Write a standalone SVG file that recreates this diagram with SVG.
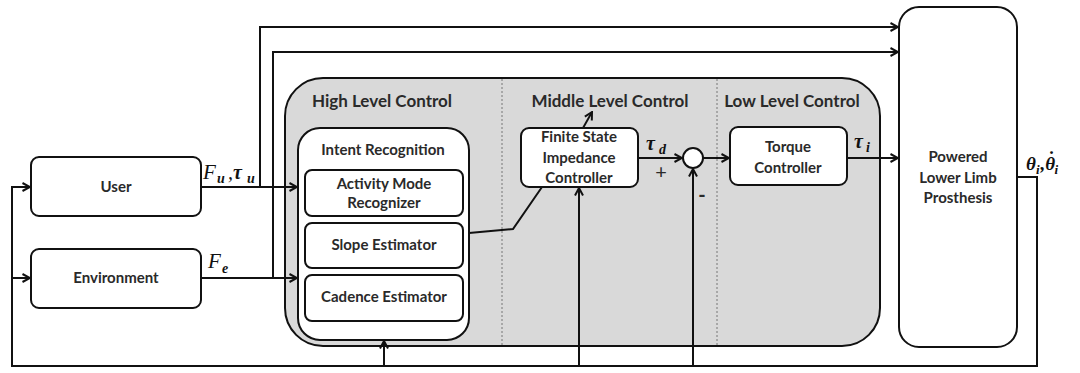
<svg xmlns="http://www.w3.org/2000/svg" width="1080" height="373" viewBox="0 0 1080 373">
<defs>
<marker id="arr" viewBox="0 0 10 10" refX="9" refY="5" markerWidth="10" markerHeight="10" markerUnits="userSpaceOnUse" orient="auto">
<path d="M1.5,1 L9,5 L1.5,9" fill="none" stroke="#111" stroke-width="2"/>
</marker>
<style>
.box{fill:#fff;stroke:#111;stroke-width:2}
.cont{fill:#d9d9d9;stroke:#111;stroke-width:2}
.div{stroke:#777;stroke-width:1;stroke-dasharray:2,2;fill:none}
.ln{fill:none;stroke:#111;stroke-width:2}
.ar{marker-end:url(#arr)}
.t{font-family:Lato,"Liberation Sans",sans-serif;font-weight:bold;font-size:15px;fill:#2a2a2a;text-anchor:middle}
.h{font-size:17px}
.m{font-family:"Liberation Serif",serif;font-style:italic;fill:#111}
</style>
</defs>
<rect width="1080" height="373" fill="#fff"/>
<g id="control-block">
<rect class="cont" x="285" y="78" width="595" height="268" rx="38"/>
<line class="div" x1="502" y1="79" x2="502" y2="345"/>
<line class="div" x1="717" y1="79" x2="717" y2="345"/>
<text class="t h" x="382" y="107">High Level Control</text>
<text class="t h" x="610" y="107">Middle Level Control</text>
<text class="t h" x="792" y="107">Low Level Control</text>
</g>
<g id="connectors">
<path class="ln ar" d="M201,187 H297"/>
<path class="ln ar" d="M201,278 H297"/>
<path class="ln ar" d="M260,187 V27 H898"/>
<path class="ln ar" d="M273,278 V52 H898"/>
<path class="ln" d="M469,233 L513,229 L542,187"/>
<path class="ln ar" d="M583,128 L592,112"/>
<path class="ln ar" d="M638,158 H682"/>
<path class="ln ar" d="M703,158 H729"/>
<path class="ln ar" d="M847,158 H898"/>
<path class="ln ar" d="M1017,177 H1037 V366 H12 V187 H30"/>
<path class="ln ar" d="M12,278 H30"/>
<path class="ln ar" d="M384,366 V341"/>
<path class="ln ar" d="M579,366 V188"/>
<path class="ln ar" d="M693,366 V169"/>
<text class="m" x="203" y="179" font-size="21">F</text>
<text class="m" x="217" y="183" font-size="14" font-weight="bold">u</text>
<text class="m" x="228" y="179" font-size="20">,</text>
<text class="m" x="233" y="179" font-size="20" font-weight="bold">τ</text>
<text class="m" x="247" y="183" font-size="14" font-weight="bold">u</text>
<text class="m" x="208" y="268" font-size="21">F</text>
<text class="m" x="222" y="273" font-size="14" font-weight="bold">e</text>
<text class="m" x="646" y="150" font-size="20" font-weight="bold">τ</text>
<text class="m" x="659" y="154" font-size="14" font-weight="bold">d</text>
<text class="t" x="661" y="179" style="font-size:20px;font-weight:normal">+</text>
<text class="t" x="702" y="202" style="font-size:20px">-</text>
<text class="m" x="854" y="148" font-size="20" font-weight="bold">τ</text>
<text class="m" x="866" y="152" font-size="14" font-weight="bold">i</text>
<text class="m" x="1026" y="170" font-size="19" font-weight="bold">θ<tspan font-size="13" dy="4">i</tspan><tspan dx="1" dy="-4">,θ</tspan><tspan dx="-8" dy="-5">˙</tspan><tspan font-size="13" dx="1" dy="9">i</tspan></text>
</g>
<g id="user">
<rect class="box" x="31" y="157" width="170" height="59" rx="8"/>
<text class="t" x="116" y="192">User</text>
</g>
<g id="environment">
<rect class="box" x="31" y="249" width="170" height="59" rx="8"/>
<text class="t" x="116" y="283">Environment</text>
</g>
<g id="intent-recognition">
<rect class="box" x="298" y="128" width="171" height="212" rx="22"/>
<text class="t" x="383" y="155">Intent Recognition</text>
</g>
<g id="activity-mode">
<rect class="box" x="305" y="170" width="158" height="46" rx="7"/>
<text class="t" x="384" y="189">Activity Mode</text>
<text class="t" x="384" y="208">Recognizer</text>
</g>
<g id="slope-estimator">
<rect class="box" x="305" y="223" width="158" height="45" rx="7"/>
<text class="t" x="384" y="250">Slope Estimator</text>
</g>
<g id="cadence-estimator">
<rect class="box" x="305" y="275" width="158" height="46" rx="7"/>
<text class="t" x="384" y="302">Cadence Estimator</text>
</g>
<g id="fsic">
<rect class="box" x="521" y="128" width="117" height="59" rx="8"/>
<text class="t" x="579" y="142">Finite State</text>
<text class="t" x="579" y="163">Impedance</text>
<text class="t" x="579" y="183">Controller</text>
</g>
<g id="sum">
<circle class="box" cx="693" cy="158" r="10"/>
</g>
<g id="torque-controller">
<rect class="box" x="730" y="127" width="117" height="58" rx="8"/>
<text class="t" x="788" y="152">Torque</text>
<text class="t" x="788" y="173">Controller</text>
</g>
<g id="prosthesis">
<rect class="box" x="899" y="7" width="118" height="340" rx="20"/>
<text class="t" x="958" y="162">Powered</text>
<text class="t" x="958" y="183">Lower Limb</text>
<text class="t" x="958" y="203">Prosthesis</text>
</g>
</svg>
